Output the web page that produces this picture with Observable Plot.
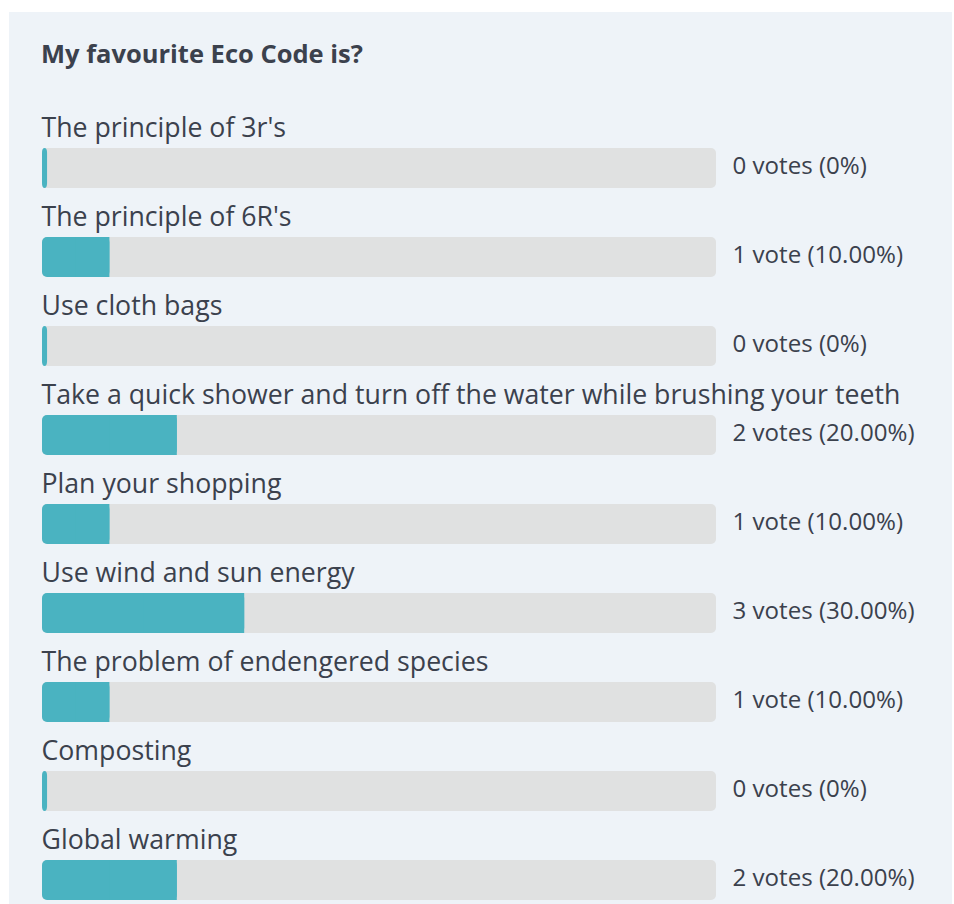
<!DOCTYPE html>
<html>
<head>
<meta charset="utf-8">
<script src="https://cdn.jsdelivr.net/npm/d3@7"></script>
<script src="https://cdn.jsdelivr.net/npm/@observablehq/plot@0.6"></script>
<style>
  html, body { margin: 0; padding: 0; background: #ffffff; }
  #wrap { position: relative; width: 954px; height: 904px; overflow: hidden; }
  #panel { position: absolute; left: 9px; top: 12px; width: 943px; height: 892px; background: #eef3f8; }
  #title { position: absolute; left: 41px; top: 38px; font-family: "Open Sans", sans-serif; font-weight: 700; font-size: 25.5px; color: #3b414d; line-height: 30px; white-space: nowrap; }
  #chart { position: absolute; left: 0; top: 0; }
  #chart svg { background: transparent !important; }
</style>
</head>
<body>
<div id="wrap">
  <div id="panel"></div>
  <div id="title">My favourite Eco Code is?</div>
  <div id="chart"></div>
</div>
<script>
const options = [
  "The principle of 3r's",
  "The principle of 6R's",
  "Use cloth bags",
  "Take a quick shower and turn off the water while brushing your teeth",
  "Plan your shopping",
  "Use wind and sun energy",
  "The problem of endengered species",
  "Composting",
  "Global warming"
];
const votes = [0, 1, 0, 2, 1, 3, 1, 0, 2];
const percents = [0, 10, 0, 20, 10, 30, 10, 0, 20];
const percentLabels = ["0%", "10.00%", "0%", "20.00%", "10.00%", "30.00%", "10.00%", "0%", "20.00%"];

const data = options.map((o, i) => ({
  option: o,
  votes: votes[i],
  pct: percents[i],
  text: `${votes[i]} vote${votes[i] === 1 ? "" : "s"} (${percentLabels[i]})`
}));

const font = "Open Sans, sans-serif";
const ink = "#3b414d";

const chart = Plot.plot({
  width: 954,
  height: 904,
  margin: 0,
  style: { background: "transparent", fontFamily: font },
  x: { domain: [0, 100], range: [42, 716], axis: null },
  y: { type: "band", domain: options, range: [148, 900], paddingInner: 49 / 89, paddingOuter: 0, axis: null },
  marks: [
    Plot.barX(data, { x1: 0, x2: 100, y: "option", fill: "#e0e1e1", rx: 5 }),
    Plot.barX(data, { x1: 0, x2: d => Math.max(d.pct, 0.75), y: "option", fill: "#4ab3c1", rx: 5 }),
    Plot.barX(data.filter(d => d.pct > 0), { x1: d => d.pct / 2, x2: "pct", y: "option", fill: "#4ab3c1" }),
    Plot.text(data, { x: 0, y: "option", text: "option", textAnchor: "start", dx: -1, dy: -40, fontSize: 26.7, fill: ink }),
    Plot.text(data, { x: 100, y: "option", text: "text", textAnchor: "start", dx: 16, dy: -2, fontSize: 24.1, fill: ink })
  ]
});
document.getElementById("chart").appendChild(chart);
</script>
</body>
</html>
